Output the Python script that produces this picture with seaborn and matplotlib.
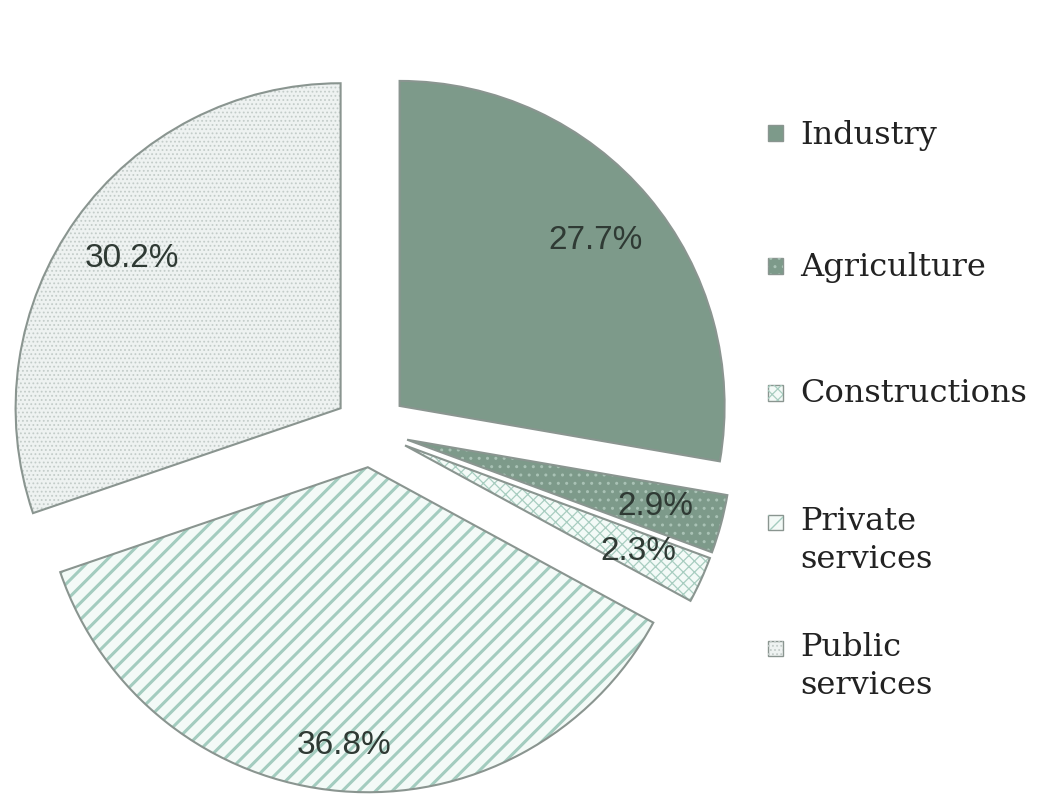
import matplotlib
matplotlib.use("Agg")
import matplotlib.pyplot as plt
import matplotlib.patches as mpatches
import seaborn as sns

# ---- data ----
categories = ["Industry", "Agriculture", "Constructions", "Private services", "Public services"]
legend_labels = ["Industry", "Agriculture", "Constructions", "Private\nservices", "Public\nservices"]
shares = [27.7, 2.9, 2.3, 36.8, 30.2]

# ---- styles ----
face_colors = ["#7d9a8a", "#7d9a8a", "#f3faf7", "#f3faf7", "#eef2f1"]
hatches = [None, "..", "xxx", "//", "...."]
hatch_colors = ["#7d9a8a", "#a9c2b5", "#a8cdc0", "#a3ccbf", "#c3ccc9"]
hatch_lws = [0.5, 1.0, 0.9, 2.2, 0.8]
edge_color = "#8a9590"
text_color = "#2f3a34"

sns.set_theme(style="white")
plt.rcParams["font.family"] = ["DejaVu Sans"]

W, H = 1054, 801
fig = plt.figure(figsize=(W / 100, H / 100), dpi=100)
fig.patch.set_facecolor("white")

cx, cy, R = 371, 430, 325
half = 371 / R
ax = fig.add_axes([0, 0, 742 / W, 742 / H])
ax.axis("off")

explode = [0.115] * len(shares)

# base fill with shadow
wedges, _ = ax.pie(shares, explode=explode, startangle=90, counterclock=False,
                   colors=face_colors, radius=1,
                   wedgeprops=dict(linewidth=0, edgecolor="none"),
                   shadow=dict(ox=3, oy=-3, shade=0.3, alpha=0.55))

# hatch overlays
for w, h, hc, hlw in zip(wedges, hatches, hatch_colors, hatch_lws):
    if h is None:
        continue
    with plt.rc_context({"hatch.linewidth": hlw, "hatch.color": hc}):
        p = mpatches.Wedge(w.center, w.r, w.theta1, w.theta2, facecolor="none",
                           edgecolor=hc, hatch=h, linewidth=0)
        if hasattr(p, "set_hatch_linewidth"):
            p.set_hatch_linewidth(hlw)
        ax.add_patch(p)

# outlines + percentage labels
wedges2, _, autotexts = ax.pie(shares, explode=explode, startangle=90, counterclock=False,
                               colors=["none"] * len(shares), radius=1,
                               autopct="%.1f%%", pctdistance=0.79,
                               wedgeprops=dict(linewidth=1.5, edgecolor=edge_color, fill=False),
                               textprops=dict(fontsize=24, color=text_color,
                                              family=["Liberation Sans", "DejaVu Sans"]))
# the large private slice label sits a little further out
x0, y0 = autotexts[3].get_position()
c = wedges2[3].center
autotexts[3].set_position((c[0] + (x0 - c[0]) * 0.86 / 0.79, c[1] + (y0 - c[1]) * 0.86 / 0.79))

ax.set_xlim(-half, half)
ax.set_ylim(-half, half)
ax.set_aspect("equal")

# ---- legend (manual placement) ----
marker_y = [133, 266, 393, 522, 648]
text_top = [120, 252, 378, 506, 632]
for lab, fc, h, hc, hlw, my, ty in zip(legend_labels, face_colors, hatches, hatch_colors,
                                      hatch_lws, marker_y, text_top):
    rect = mpatches.Rectangle((768 / W, 1 - (my + 7.5) / H), 15 / W, 15 / H,
                              transform=fig.transFigure, facecolor=fc,
                              edgecolor=edge_color, linewidth=1.0)
    fig.patches.append(rect)
    if h is not None:
        with plt.rc_context({"hatch.linewidth": min(hlw, 1.0)}):
            r2 = mpatches.Rectangle((768 / W, 1 - (my + 7.5) / H), 15 / W, 15 / H,
                                    transform=fig.transFigure, facecolor="none",
                                    edgecolor=hc, hatch=h, linewidth=0)
            if hasattr(r2, "set_hatch_linewidth"):
                r2.set_hatch_linewidth(min(hlw, 1.0))
            fig.patches.append(r2)
    fig.text(800 / W, 1 - ty / H, lab, ha="left", va="top", fontsize=23,
             color="#222222", family=["DejaVu Serif"], linespacing=1.3)

fig.savefig("out.png", dpi=100, facecolor="white")
